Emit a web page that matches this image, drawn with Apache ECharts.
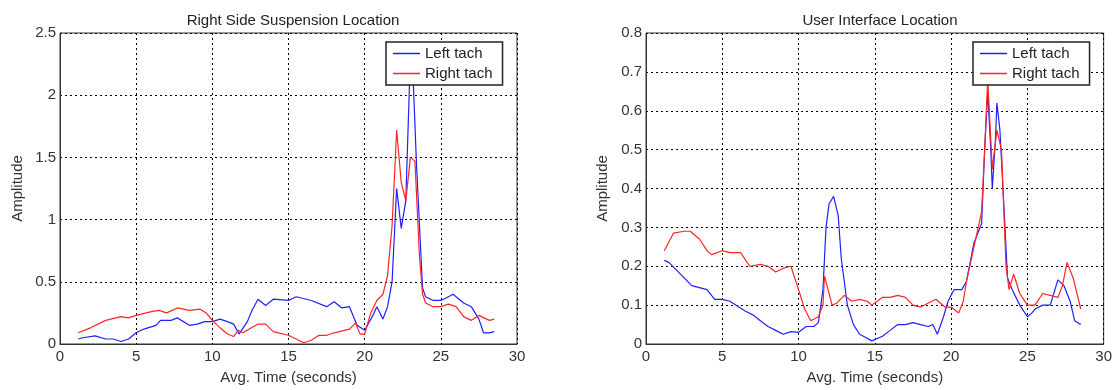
<!DOCTYPE html>
<html>
<head>
<meta charset="utf-8">
<script src="https://cdn.jsdelivr.net/npm/echarts@6/dist/echarts.min.js"></script>
<style>html,body{margin:0;padding:0;background:#fff}#c{width:1115px;height:390px}</style>
</head>
<body>
<div id="c"></div>
<script>
// Chart 1: Right Side Suspension Location
const susLeftX = [1.2,1.5,2.3,3,3.5,4,4.5,5,5.5,6.3,6.6,7.3,7.7,8.5,9,9.5,10,10.5,11,11.4,11.75,12.3,12.6,13,13.5,14,15,15.5,16.5,17.5,18,18.5,19,19.5,20,20.5,20.8,21.2,21.5,21.8,22.1,22.4,22.7,22.95,23.2,23.4,23.8,24,24.5,25,25.5,25.8,26.5,27,27.5,27.8,28.2,28.5];
const susLeftY = [0.04,0.05,0.065,0.04,0.04,0.02,0.04,0.09,0.12,0.15,0.19,0.19,0.21,0.15,0.16,0.18,0.18,0.2,0.18,0.16,0.08,0.18,0.27,0.36,0.31,0.36,0.35,0.38,0.35,0.3,0.34,0.29,0.3,0.15,0.11,0.22,0.3,0.2,0.3,0.5,1.25,0.93,1.15,2.12,2.08,1.45,0.45,0.38,0.35,0.35,0.38,0.4,0.33,0.3,0.2,0.09,0.09,0.1];
const susRightX = [1.2,2,3,4,4.5,5,6,6.5,7,7.7,8.5,9.2,9.6,10,10.5,11,11.4,11.7,12,13,13.5,14,15,15.5,16,16.5,17,17.5,18,19,19.4,19.7,20,20.4,20.8,21.2,21.5,21.8,22.1,22.4,22.7,23,23.3,23.6,23.8,24,24.5,25,25.5,26,26.5,27,27.5,28,28.2,28.5];
const susRightY = [0.09,0.13,0.19,0.22,0.21,0.23,0.26,0.27,0.25,0.29,0.27,0.28,0.25,0.19,0.13,0.08,0.06,0.11,0.09,0.16,0.16,0.1,0.07,0.04,0.01,0.03,0.07,0.07,0.09,0.12,0.17,0.08,0.08,0.25,0.35,0.4,0.55,0.95,1.72,1.3,1.15,1.5,1.47,0.7,0.4,0.33,0.3,0.3,0.32,0.3,0.22,0.19,0.23,0.2,0.19,0.2];

// Chart 2: User Interface Location
const uiLeftX = [1.2,1.5,2,3,3.5,4,4.5,5,5.5,6.5,7,7.5,8,8.5,9,9.5,10,10.5,11,11.3,11.6,11.8,12,12.3,12.6,12.8,13.2,13.6,14,14.5,14.8,15.5,16,16.5,17,17.5,18,18.5,18.8,19.1,19.5,19.8,20.2,20.7,21,21.5,22,22.2,22.4,22.6,22.7,22.9,23,23.2,23.4,23.7,24,24.5,25,25.3,25.5,26,26.5,27,27.4,27.8,28.1,28.5];
const uiLeftY = [0.215,0.21,0.19,0.15,0.145,0.14,0.115,0.115,0.11,0.085,0.075,0.06,0.045,0.035,0.025,0.032,0.03,0.045,0.045,0.055,0.14,0.3,0.36,0.38,0.33,0.22,0.1,0.05,0.025,0.015,0.008,0.02,0.035,0.05,0.05,0.055,0.05,0.045,0.05,0.025,0.07,0.11,0.14,0.14,0.16,0.26,0.31,0.5,0.65,0.5,0.4,0.52,0.62,0.55,0.4,0.17,0.14,0.1,0.07,0.08,0.09,0.1,0.1,0.165,0.15,0.11,0.06,0.05];
const uiRightX = [1.2,1.8,2.5,2.9,3.5,4,4.3,5,5.5,6.2,6.8,7.5,8,8.5,9,9.5,10,10.4,10.8,11.3,11.6,11.7,12.2,12.5,13,13.5,14,14.5,14.8,15.5,16,16.5,17,17.5,18,19,19.6,20,20.5,20.8,21,21.5,22,22.2,22.4,22.7,23,23.3,23.6,23.8,24.1,24.5,25,25.5,26,26.5,27,27.3,27.6,28,28.5];
const uiRightY = [0.24,0.285,0.29,0.29,0.27,0.24,0.23,0.24,0.235,0.235,0.2,0.205,0.2,0.185,0.195,0.2,0.14,0.09,0.06,0.07,0.1,0.175,0.1,0.105,0.125,0.11,0.115,0.11,0.1,0.12,0.12,0.125,0.12,0.1,0.095,0.115,0.095,0.095,0.08,0.11,0.16,0.25,0.34,0.5,0.68,0.45,0.55,0.5,0.2,0.14,0.18,0.13,0.1,0.1,0.13,0.125,0.12,0.15,0.21,0.17,0.09];

const titles = ['Right Side Suspension Location', 'User Interface Location'];
const xName = 'Avg. Time (seconds)';
const yName = 'Amplitude';
const seriesNames = ['Left tach', 'Right tach'];
const yMax = [2.5, 0.8];
const yStep = [0.5, 0.1];

const zip = (xs, ys) => xs.map((x, i) => [x, ys[i]]);
const FONT = 'Liberation Sans, Arial, sans-serif';
const FS = 15;
const TXT = '#333';
const BLUE = '#1f1fff';
const RED = '#ff2424';

const grids = [
  {left: 60, top: 33, width: 457, height: 311},
  {left: 646, top: 33, width: 459, height: 311}
];

function xAxis(i) {
  return {
    type: 'value', gridIndex: i, min: 0, max: 30, interval: 5,
    name: xName, nameLocation: 'middle', nameGap: 26,
    nameTextStyle: {fontFamily: FONT, fontSize: FS, color: TXT},
    axisLine: {show: true, onZero: false, lineStyle: {color: '#333', width: 1}},
    axisTick: {show: false},
    axisLabel: {fontFamily: FONT, fontSize: FS, color: TXT, margin: 5},
    splitLine: {show: true, lineStyle: {color: '#000', type: [2, 3], width: 1}}
  };
}
function yAxis(i) {
  return {
    type: 'value', gridIndex: i, min: 0, max: yMax[i], interval: yStep[i],
    name: yName, nameLocation: 'middle', nameGap: i === 0 ? 35 : 36,
    nameTextStyle: {fontFamily: FONT, fontSize: FS, color: TXT},
    axisLine: {show: true, lineStyle: {color: '#333', width: 1}},
    axisTick: {show: false},
    axisLabel: {fontFamily: FONT, fontSize: FS, color: TXT, margin: 4},
    splitLine: {show: true, lineStyle: {color: '#000', type: [2, 3], width: 1}}
  };
}
function line(name, i, data, color) {
  return {
    name: name, type: 'line', xAxisIndex: i, yAxisIndex: i, data: data,
    symbol: 'none', smooth: false, animation: false,
    lineStyle: {color: color, width: 1.2}, itemStyle: {color: color}
  };
}
function legend(i, left) {
  return {
    data: seriesNames.map(n => ({name: n, icon: 'rect'})),
    orient: 'vertical', left: left, top: 42,
    padding: [3, 10, 3, 7], itemGap: 3, itemTextGap: 8,
    itemWidth: 27, itemHeight: 1.5,
    backgroundColor: '#fff', borderColor: '#222', borderWidth: 1.5,
    textStyle: {fontFamily: FONT, fontSize: FS, color: '#222', lineHeight: 17},
    selectedMode: false
  };
}

const chart = echarts.init(document.getElementById('c'), null, {renderer: 'canvas'});
chart.setOption({
  animation: false,
  backgroundColor: '#fff',
  title: [
    {text: titles[0], left: 288, top: 8, textAlign: 'center',
     textStyle: {fontFamily: FONT, fontSize: FS, fontWeight: 'normal', color: '#222'}},
    {text: titles[1], left: 875, top: 8, textAlign: 'center',
     textStyle: {fontFamily: FONT, fontSize: FS, fontWeight: 'normal', color: '#222'}}
  ],
  grid: grids.map(g => Object.assign({show: true, borderColor: '#333', borderWidth: 1, containLabel: false}, g)),
  xAxis: [xAxis(0), xAxis(1)],
  yAxis: [yAxis(0), yAxis(1)],
  legend: [legend(0, 386), legend(1, 973)],
  series: [
    line(seriesNames[0], 0, zip(susLeftX, susLeftY), BLUE),
    line(seriesNames[1], 0, zip(susRightX, susRightY), RED),
    line(seriesNames[0], 1, zip(uiLeftX, uiLeftY), BLUE),
    line(seriesNames[1], 1, zip(uiRightX, uiRightY), RED)
  ]
});
</script>
</body>
</html>
